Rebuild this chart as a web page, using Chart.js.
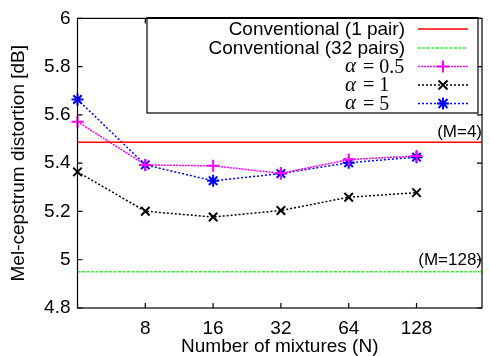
<!DOCTYPE html>
<html>
<head>
<meta charset="utf-8">
<script src="https://cdn.jsdelivr.net/npm/chart.js@4.4.1/dist/chart.umd.min.js"></script>
<style>
  html, body { margin: 0; padding: 0; background: #fff; }
  #wrap { width: 490px; height: 356px; }
</style>
</head>
<body>
<div id="wrap"><canvas id="distChart" width="490" height="356"></canvas></div>
<script>
// number of mixtures N (x axis, log2)
const mixtures = [4, 8, 16, 32, 64, 128];
const xTicks = [8, 16, 32, 64, 128];
const yTicks = [4.8, 5, 5.2, 5.4, 5.6, 5.8, 6];

// mel-cepstrum distortion [dB]
const alpha05 = [5.572, 5.393, 5.389, 5.358, 5.415, 5.43];
const alpha1 = [5.364, 5.201, 5.177, 5.204, 5.259, 5.278];
const alpha5 = [5.664, 5.393, 5.327, 5.357, 5.402, 5.425];
const conv1pair = 5.487;   // M=4
const conv32pairs = 4.95;  // M=128
const xMin = 4, xMax = 250;

const FONT = '"Liberation Sans", Arial, sans-serif';
const GREEN = '#2ef02e';

function pts(arr) {
  return arr.map((v, i) => ({ x: mixtures[i], y: v }));
}

function drawMarker(ctx, style, x, y, r) {
  ctx.beginPath();
  if (style === 'cross' || style === 'star') {
    ctx.moveTo(x - r, y); ctx.lineTo(x + r, y);
    ctx.moveTo(x, y - r); ctx.lineTo(x, y + r);
  }
  if (style === 'crossRot' || style === 'star') {
    const d = r * 0.75;
    ctx.moveTo(x - d, y - d); ctx.lineTo(x + d, y + d);
    ctx.moveTo(x - d, y + d); ctx.lineTo(x + d, y - d);
  }
  ctx.stroke();
}

const legendItems = [
  { label: 'Conventional (1 pair)', color: '#ff0000', dash: [], marker: null },
  { label: 'Conventional (32 pairs)', color: GREEN, dash: [3, 1.5], marker: null },
  { alpha: '0.5', color: '#ff00ff', dash: [2, 1], marker: 'cross' },
  { alpha: '1', color: '#000000', dash: [2, 2], marker: 'crossRot' },
  { alpha: '5', color: '#0000ff', dash: [2, 2], marker: 'star' }
];

const framePlugin = {
  id: 'frame',
  afterDraw(chart) {
    const { ctx, chartArea: a, scales } = chart;
    ctx.save();
    // frame
    ctx.strokeStyle = '#000';
    ctx.lineWidth = 1.2;
    ctx.setLineDash([]);
    ctx.strokeRect(a.left, a.top, a.right - a.left, a.bottom - a.top);
    // inward ticks
    const tl = 5;
    ctx.beginPath();
    xTicks.forEach(v => {
      const x = scales.x.getPixelForValue(v);
      ctx.moveTo(x, a.bottom); ctx.lineTo(x, a.bottom - tl);
      ctx.moveTo(x, a.top); ctx.lineTo(x, a.top + tl);
    });
    yTicks.forEach(v => {
      const y = scales.y.getPixelForValue(v);
      ctx.moveTo(a.left, y); ctx.lineTo(a.left + tl, y);
      ctx.moveTo(a.right, y); ctx.lineTo(a.right - tl, y);
    });
    ctx.stroke();

    // annotations
    ctx.fillStyle = '#000';
    ctx.font = '17px ' + FONT;
    ctx.textAlign = 'right';
    ctx.textBaseline = 'middle';
    ctx.fillText('(M=4)', 482, scales.y.getPixelForValue(conv1pair) - 10);
    ctx.fillText('(M=128)', 482, scales.y.getPixelForValue(conv32pairs) - 11);

    // legend box
    const bx = 147, by = 18, bw = 331, bh = 95;
    ctx.fillStyle = '#fff';
    ctx.fillRect(bx, by, bw, bh);
    ctx.lineWidth = 1.2;
    ctx.strokeRect(bx, by, bw, bh);
    ctx.lineWidth = 2;
    ctx.beginPath(); ctx.moveTo(bx, by); ctx.lineTo(bx + bw, by); ctx.stroke();

    const rowY = [29, 48, 66.5, 85, 103.5];
    legendItems.forEach((it, i) => {
      const y = rowY[i];
      ctx.fillStyle = '#000';
      ctx.textBaseline = 'middle';
      if (it.label) {
        ctx.font = '19px ' + FONT;
        ctx.textAlign = 'right';
        ctx.fillText(it.label, 405, y + 1);
      } else {
        ctx.textAlign = 'left';
        ctx.font = 'italic 21px "Liberation Serif", "DejaVu Serif", serif';
        ctx.fillText('\u03b1', 345, y);
        ctx.font = '20px "Liberation Serif", "DejaVu Serif", serif';
        ctx.fillText('= ' + it.alpha, 363, y + 1);
      }
      ctx.strokeStyle = it.color;
      ctx.lineWidth = 1.5;
      ctx.setLineDash(it.dash);
      ctx.beginPath(); ctx.moveTo(418, y); ctx.lineTo(468, y); ctx.stroke();
      if (it.marker) {
        ctx.setLineDash([]);
        ctx.lineWidth = 2;
        drawMarker(ctx, it.marker, 443, y, 6);
      }
    });

    // axis titles
    ctx.fillStyle = '#000';
    ctx.font = '19px ' + FONT;
    ctx.textAlign = 'center';
    ctx.textBaseline = 'middle';
    ctx.fillText('Number of mixtures (N)', (a.left + a.right) / 2, 347);
    ctx.translate(19, (a.top + a.bottom) / 2);
    ctx.rotate(-Math.PI / 2);
    ctx.fillText('Mel-cepstrum distortion [dB]', 0, 0);
    ctx.restore();
  }
};

const lineDs = (label, data, color, style, dash) => ({
  label,
  data,
  borderColor: color,
  backgroundColor: color,
  borderWidth: 1.5,
  borderDash: dash,
  pointStyle: style,
  pointRadius: style ? 6 : 0,
  pointBorderWidth: 2,
  pointBorderColor: color,
  tension: 0,
  clip: false
});

new Chart(document.getElementById('distChart').getContext('2d'), {
  type: 'line',
  data: {
    datasets: [
      lineDs('Conventional (1 pair)', [{ x: xMin, y: conv1pair }, { x: xMax, y: conv1pair }], '#ff0000', false, []),
      lineDs('Conventional (32 pairs)', [{ x: xMin, y: conv32pairs }, { x: xMax, y: conv32pairs }], GREEN, false, [3, 1.5]),
      lineDs('alpha = 0.5', pts(alpha05), '#ff00ff', 'cross', [2, 1]),
      lineDs('alpha = 1', pts(alpha1), '#000000', 'crossRot', [2, 2]),
      lineDs('alpha = 5', pts(alpha5), '#0000ff', 'star', [2, 2])
    ]
  },
  options: {
    responsive: false,
    animation: false,
    layout: { padding: { top: 14.5, right: 1, left: 0, bottom: 0 } },
    plugins: { legend: { display: false }, tooltip: { enabled: false } },
    scales: {
      x: {
        type: 'logarithmic',
        min: xMin,
        max: xMax,
        afterBuildTicks: s => { s.ticks = xTicks.map(v => ({ value: v })); },
        afterFit: s => { s.height = 48; },
        grid: { display: false, drawTicks: false },
        border: { display: false },
        ticks: {
          autoSkip: false, maxRotation: 0, padding: 9,
          color: '#000', font: { family: FONT, size: 19 },
          callback: v => String(v)
        }
      },
      y: {
        min: 4.8,
        max: 6,
        afterBuildTicks: s => { s.ticks = yTicks.map(v => ({ value: v })); },
        afterFit: s => { s.width = 77.5; },
        grid: { display: false, drawTicks: false },
        border: { display: false },
        ticks: {
          padding: 7,
          color: '#000', font: { family: FONT, size: 19 },
          callback: v => String(Number(v.toFixed(1)))
        }
      }
    }
  },
  plugins: [framePlugin]
});
</script>
</body>
</html>
